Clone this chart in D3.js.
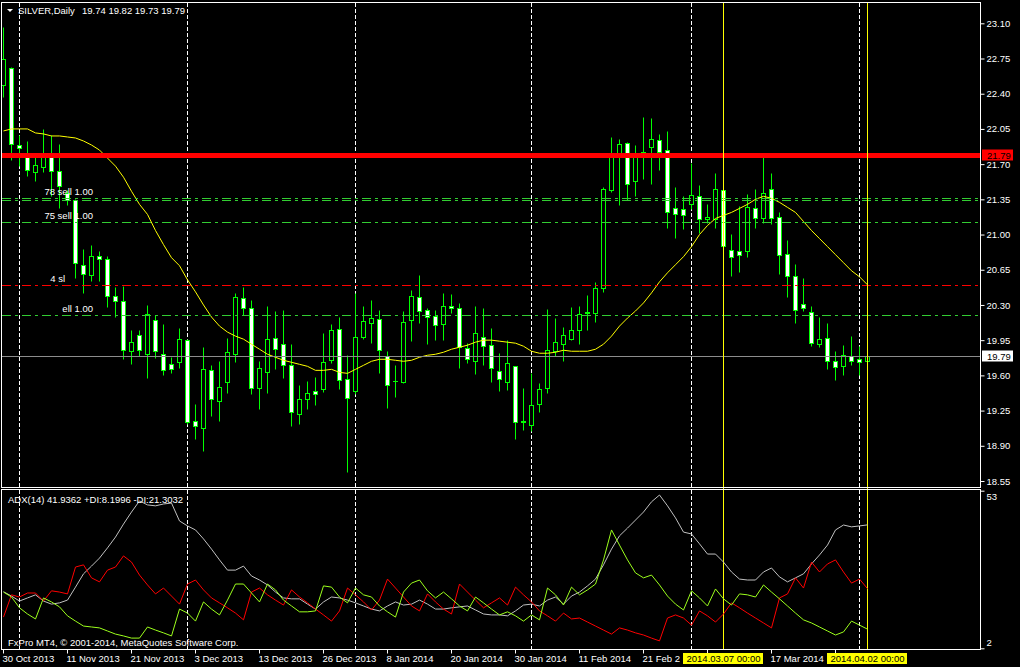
<!DOCTYPE html>
<html><head><meta charset="utf-8">
<script src="https://cdn.jsdelivr.net/npm/d3@7"></script>
<style>
body{margin:0;background:#000;}
svg{display:block;background:#000;}
text{font-family:"Liberation Sans",Arial,sans-serif;font-size:9.5px;}
</style></head>
<body><svg id="c" width="1020" height="667"></svg>
<script>
// ---------- DATA ----------
const dates = [
"2013-10-30","2013-10-31",
"2013-11-01","2013-11-04","2013-11-05","2013-11-06","2013-11-07","2013-11-08","2013-11-11","2013-11-12","2013-11-13","2013-11-14","2013-11-15","2013-11-18","2013-11-19","2013-11-20","2013-11-21","2013-11-22","2013-11-25","2013-11-26","2013-11-27","2013-11-28","2013-11-29",
"2013-12-02","2013-12-03","2013-12-04","2013-12-05","2013-12-06","2013-12-09","2013-12-10","2013-12-11","2013-12-12","2013-12-13","2013-12-16","2013-12-17","2013-12-18","2013-12-19","2013-12-20","2013-12-23","2013-12-24","2013-12-26","2013-12-27","2013-12-30","2013-12-31",
"2014-01-02","2014-01-03","2014-01-06","2014-01-07","2014-01-08","2014-01-09","2014-01-10","2014-01-13","2014-01-14","2014-01-15","2014-01-16","2014-01-17","2014-01-20","2014-01-21","2014-01-22","2014-01-23","2014-01-24","2014-01-27","2014-01-28","2014-01-29","2014-01-30","2014-01-31",
"2014-02-03","2014-02-04","2014-02-05","2014-02-06","2014-02-07","2014-02-10","2014-02-11","2014-02-12","2014-02-13","2014-02-14","2014-02-17","2014-02-18","2014-02-19","2014-02-20","2014-02-21","2014-02-24","2014-02-25","2014-02-26","2014-02-27","2014-02-28",
"2014-03-03","2014-03-04","2014-03-05","2014-03-06","2014-03-07","2014-03-10","2014-03-11","2014-03-12","2014-03-13","2014-03-14","2014-03-17","2014-03-18","2014-03-19","2014-03-20","2014-03-21","2014-03-24","2014-03-25","2014-03-26","2014-03-27","2014-03-28","2014-03-31",
"2014-04-01","2014-04-02"];

const open = [22.49,22.66,21.89,21.80,21.62,21.67,21.81,21.63,21.41,21.34,
20.70,20.60,20.79,20.76,20.39,20.34,19.84,20.00,19.81,20.15,
19.81,19.71,19.73,19.95,19.15,19.08,19.65,19.35,19.53,19.81,
20.37,20.27,19.47,19.63,19.97,19.91,19.70,19.22,19.37,19.44,
19.46,19.75,20.06,19.56,19.44,19.98,20.12,20.16,19.79,19.54,
19.53,20.15,20.38,20.25,20.19,20.11,20.29,20.27,19.87,19.74,
19.98,19.90,19.64,19.53,19.69,19.14,19.11,19.32,19.47,19.84,
19.91,19.96,20.05,20.22,20.22,20.47,21.44,21.77,21.91,21.53,
21.80,21.87,21.94,21.84,21.26,21.25,21.30,21.38,21.15,21.15,
21.44,20.85,20.84,20.84,21.26,21.16,21.45,21.17,20.81,20.59,
20.31,20.23,19.91,19.97,19.74,19.69,19.79,19.76,19.74];
const high = [23.06,22.67,21.99,21.93,21.78,22.05,21.99,21.90,21.44,21.35,
20.86,20.90,20.84,20.79,20.48,20.49,20.05,20.05,20.30,20.20,
20.11,19.78,20.07,19.96,19.32,19.88,19.70,19.74,19.97,20.42,
20.48,20.35,19.74,20.29,20.24,20.25,19.91,19.50,19.54,19.58,
20.02,20.11,20.18,19.80,20.42,20.29,20.35,20.25,19.84,19.70,
20.24,20.45,20.60,20.27,20.25,20.42,20.41,20.32,19.92,20.29,
20.27,20.07,19.82,19.95,19.69,19.47,19.62,19.52,20.26,20.17,
20.08,20.28,20.29,20.40,20.53,21.47,21.97,21.95,21.92,21.89,
22.17,22.16,22.00,22.03,21.47,21.38,21.71,21.49,21.30,21.61,
21.58,21.01,21.28,21.40,21.45,21.78,21.61,21.22,20.95,20.71,
20.57,20.29,20.18,20.12,19.84,19.90,19.99,19.89,19.82];
const low = [22.37,21.74,21.68,21.58,21.53,21.62,21.38,21.26,21.29,20.57,
20.42,20.54,20.54,20.28,20.18,19.76,19.71,19.79,19.57,19.77,
19.60,19.62,19.67,19.12,18.97,18.85,19.20,19.15,19.42,19.73,
20.20,19.41,19.27,19.42,19.66,19.57,19.10,19.12,19.27,19.31,
19.43,19.72,19.46,18.64,19.41,19.96,19.92,19.62,19.28,19.39,
19.52,19.94,20.12,19.91,19.95,19.95,20.22,19.67,19.72,19.61,
19.70,19.53,19.44,19.45,18.97,19.06,19.05,19.24,19.42,19.79,
19.74,19.95,19.91,20.05,20.13,20.43,21.42,21.29,21.34,21.38,
21.55,21.50,21.64,21.07,20.97,21.06,21.25,21.02,21.11,21.07,
20.73,20.59,20.63,20.78,21.07,21.11,21.10,20.61,20.38,20.12,
20.24,19.89,19.88,19.66,19.55,19.60,19.70,19.60,19.73];
const close = [22.75,21.90,21.86,21.64,21.69,21.80,21.63,21.48,21.34,20.72,
20.61,20.79,20.76,20.39,20.34,19.85,19.93,19.85,20.21,19.84,
19.65,19.66,19.96,19.14,19.10,19.66,19.37,19.48,19.83,20.38,
20.27,19.47,19.67,19.96,19.86,19.70,19.24,19.37,19.42,19.41,
19.73,20.05,19.55,19.38,19.98,20.14,20.17,19.85,19.50,19.54,
20.13,20.39,20.24,20.18,20.10,20.29,20.27,19.88,19.76,20.02,
19.89,19.67,19.56,19.72,19.14,19.15,19.31,19.46,19.85,19.93,
20.00,20.05,20.21,20.23,20.47,21.45,21.80,21.90,21.50,21.79,
21.82,21.95,21.82,21.22,21.20,21.19,21.39,21.15,21.17,21.45,
20.89,20.78,20.80,21.27,21.16,21.41,21.16,20.80,20.59,20.25,
20.27,19.92,19.96,19.74,19.68,19.80,19.74,19.73,19.79];

const movingAverage = [22.03,22.05,22.05,22.05,22.01,22.00,21.98,21.98,21.97,21.96,
21.93,21.89,21.84,21.76,21.68,21.57,21.43,21.30,21.20,21.04,
20.90,20.77,20.69,20.55,20.43,20.30,20.18,20.09,20.03,19.99,
19.96,19.91,19.86,19.81,19.78,19.75,19.73,19.71,19.69,19.65,
19.65,19.66,19.63,19.62,19.66,19.70,19.74,19.76,19.76,19.75,
19.74,19.75,19.78,19.80,19.81,19.83,19.86,19.88,19.90,19.93,
19.95,19.95,19.94,19.93,19.92,19.89,19.84,19.82,19.82,19.83,
19.85,19.84,19.84,19.84,19.86,19.91,19.99,20.09,20.17,20.24,
20.32,20.42,20.53,20.62,20.70,20.78,20.88,21.00,21.09,21.16,
21.19,21.22,21.26,21.30,21.35,21.38,21.36,21.32,21.27,21.22,
21.13,21.04,20.96,20.88,20.80,20.72,20.64,20.58,20.50];

const adx = [20.3,18.9,17.3,18.3,19.3,17.3,16.3,16.7,17.6,21.8,
26.1,28.6,31.2,34.5,38.0,42.2,46.1,49.7,48.4,48.1,
48.7,49.0,43.2,41.6,40.3,37.4,34.1,30.6,27.3,27.3,
28.6,25.4,24.1,22.5,20.2,18.3,18.0,18.0,16.3,14.7,
17.0,18.6,18.3,17.6,16.7,15.7,14.7,14.1,15.7,17.0,
16.0,16.3,17.6,16.3,14.7,14.7,15.1,15.4,15.7,14.4,
13.1,12.8,12.8,12.5,14.1,16.0,16.3,15.7,17.6,18.6,
16.3,18.9,20.2,22.2,24.4,29.0,34.1,38.4,40.9,43.5,
46.1,49.4,51.6,48.1,44.2,39.6,39.0,35.8,32.5,32.5,
29.9,26.7,24.4,24.1,24.1,26.7,28.0,25.1,23.5,24.8,
26.1,29.3,32.2,35.4,40.3,41.9,41.3,41.6,41.94];
const minusDI = [12.1,19.3,18.6,19.9,19.9,17.3,20.6,20.2,19.6,28.3,
29.0,24.8,23.5,27.3,28.3,31.9,29.9,25.7,22.5,19.6,
21.5,18.9,16.3,22.8,24.1,20.9,18.3,16.7,15.1,13.4,
11.2,20.2,21.5,19.3,17.6,16.0,20.9,18.6,16.7,14.7,
12.8,10.8,14.1,21.5,19.3,17.0,14.4,17.6,24.4,21.5,
18.6,15.7,14.1,19.6,17.0,14.7,13.1,22.8,20.2,17.6,
15.1,16.7,18.3,16.0,21.8,19.3,17.0,14.1,12.5,10.8,
13.4,11.5,11.8,10.5,9.2,7.9,6.6,8.6,7.9,7.0,
6.3,5.3,4.4,11.8,12.8,11.8,9.5,14.1,12.5,10.5,
13.1,16.7,15.1,13.4,11.8,10.2,8.6,18.3,19.6,24.8,
21.5,29.9,26.7,29.3,30.6,26.7,23.1,24.4,21.30];
const plusDI = [20.2,18.6,15.1,13.1,11.5,18.3,17.0,15.4,12.5,10.8,
9.2,8.9,8.6,7.6,6.6,6.0,5.3,5.3,8.9,7.9,
7.0,6.0,14.7,13.4,10.8,17.0,14.7,12.8,17.6,22.8,
22.8,19.9,17.0,22.8,20.9,17.6,15.7,13.8,13.8,14.1,
22.2,21.8,18.6,16.7,21.5,19.3,18.6,15.7,13.8,12.1,
20.2,23.1,24.1,20.6,18.3,20.2,18.0,15.7,14.1,18.6,
16.7,14.7,12.8,13.8,12.5,10.8,12.8,11.2,21.5,19.3,
16.0,21.8,19.3,20.9,22.8,30.6,40.3,35.4,30.6,26.4,
24.8,25.7,22.5,18.9,16.3,14.4,20.6,18.3,15.7,21.2,
18.0,16.0,19.6,19.3,18.6,22.5,20.2,18.0,15.7,13.4,
11.2,10.2,8.9,7.6,6.3,7.3,10.8,9.5,8.20];

const priceTicks = [23.10,22.75,22.40,22.05,21.70,21.35,21.00,20.65,20.30,19.95,19.60,19.25,18.90,18.55];
const priceDomain = [18.55, 23.10];
const adxTicks = [53, 2];
const resistanceLevel = 21.79;
const lastClose = 19.79;
const greenOrderLevels = [21.36, 21.34, 21.12, 20.20];
const redOrderLevels = [20.50];
const orderLabelLevels = [21.36, 21.12, 20.50, 20.20];
const orderLabelTexts = ["78 sell 1.00", "75 sell 1.00", "4 sl", "ell 1.00"];
const separatorDates = ["2013-11-01","2013-12-02","2014-01-02","2014-02-03","2014-03-03","2014-04-01"];
const markerDates = ["2014-03-07","2014-04-02"];
const markerLabels = ["2014.03.07 00:00","2014.04.02 00:00"];
const headerTitle = "SILVER,Daily";
const adxHeader = "ADX(14) 41.9362 +DI:8.1996 -DI:21.3032";
const copyright = "FxPro MT4, \u00A9 2001-2014, MetaQuotes Software Corp.";

// ---------- DRAW ----------
const svg = d3.select("#c");
const FONT = '"Liberation Sans",Arial,sans-serif';
const L = 1.5, R = 980.5, MT = 2.5, MB = 487.5, AT = 489.5, AB = 649.5;
const orderLabelRight = [93, 93, 65, 93];

const x = d3.scalePoint().domain(dates).range([3, 867]);
const X = d => x(d) + 0.5;
const y = d3.scaleLinear().domain(priceDomain).range([481, 23.3]);
const Y = v => Math.round(y(v)) + 0.5;
const ya = d3.scaleLinear().domain([2, 53]).range([648.3, 490.7]);

const defs = svg.append("defs");
defs.append("clipPath").attr("id","cm").append("rect").attr("x",2).attr("y",3).attr("width",978).attr("height",484);
defs.append("clipPath").attr("id","ca").append("rect").attr("x",2).attr("y",490).attr("width",978).attr("height",159);

// separators
const sep = svg.append("g");
separatorDates.forEach(d => {
  [[MT+0.5, MB-0.5],[AT+0.5, AB-0.5]].forEach(([a,b]) => {
    sep.append("line").attr("x1",X(d)).attr("x2",X(d)).attr("y1",a).attr("y2",b)
      .attr("stroke","#fff").attr("stroke-dasharray","4,2");
  });
});

// candles
const gm = svg.append("g").attr("clip-path","url(#cm)");
dates.forEach((d,i) => {
  const xc = X(d);
  gm.append("line").attr("x1",xc).attr("x2",xc).attr("y1",Y(high[i])).attr("y2",Y(low[i]))
    .attr("stroke","#00ff00").attr("stroke-width",1);
  const top = Y(Math.max(open[i],close[i])), bot = Y(Math.min(open[i],close[i]));
  const bull = close[i] >= open[i];
  if (bot - top < 0.5) {
    gm.append("line").attr("x1",xc-2.5).attr("x2",xc+2.5).attr("y1",top).attr("y2",top).attr("stroke","#00ff00");
  } else {
    gm.append("rect").attr("x",xc-2).attr("y",top).attr("width",4).attr("height",bot-top)
      .attr("fill", bull ? "#000" : "#fff").attr("stroke","#00ff00").attr("stroke-width",1);
  }
});

// moving average
gm.append("path").datum(movingAverage)
  .attr("d", d3.line().x((v,i)=>X(dates[i])).y(v=>y(v)))
  .attr("fill","none").attr("stroke","#ffff00").attr("stroke-width",1);

// level lines
const hl = (v,color,w,dash) => gm.append("line").attr("x1",2).attr("x2",980).attr("y1",Y(v)).attr("y2",Y(v))
  .attr("stroke",color).attr("stroke-width",w).attr("stroke-dasharray",dash||null);
greenOrderLevels.forEach(v => hl(v,"#32cd32",1,"9,4,3,4"));
redOrderLevels.forEach(v => hl(v,"#ff0000",1,"9,4,3,4"));
hl(lastClose,"#8c8c8c",1);
hl(resistanceLevel,"#ff0000",5);

orderLabelLevels.forEach((v,i) => {
  gm.append("text").attr("x",orderLabelRight[i]).attr("y",Y(v)-3.5).attr("text-anchor","end")
    .attr("fill","#fff").text(orderLabelTexts[i]);
});

// marker vertical lines
markerDates.forEach(d => {
  svg.append("line").attr("x1",X(d)).attr("x2",X(d)).attr("y1",3).attr("y2",649)
    .attr("stroke","#ffff00").attr("stroke-width",1);
});

// ADX panel lines
const ga = svg.append("g").attr("clip-path","url(#ca)");
const aline = d3.line().x((v,i)=>X(dates[i])).y(v=>ya(v));
[[adx,"#c0c0c0"],[minusDI,"#ff0000"],[plusDI,"#9cff1c"]].forEach(([arr,c]) => {
  ga.append("path").datum(arr).attr("d",aline).attr("fill","none").attr("stroke",c).attr("stroke-width",1);
});

// frames
svg.append("rect").attr("x",L).attr("y",MT).attr("width",R-L).attr("height",MB-MT).attr("fill","none").attr("stroke","#fff");
svg.append("rect").attr("x",L).attr("y",AT).attr("width",R-L).attr("height",AB-AT).attr("fill","none").attr("stroke","#fff");

// price axis
const ay = svg.append("g").attr("transform",`translate(${R},0)`)
  .call(d3.axisRight(y).tickValues(priceTicks).tickSize(4).tickPadding(2).tickFormat(d3.format(".2f")));
ay.select(".domain").remove();
ay.selectAll("line").attr("stroke","#fff");
ay.selectAll("text").attr("fill","#fff").style("font-family",FONT).style("font-size","9.5px");

// ADX axis
const aa = svg.append("g").attr("transform",`translate(${R},0)`)
  .call(d3.axisRight(ya).tickValues(adxTicks).tickSize(4).tickPadding(2).tickFormat(d3.format("d")));
aa.select(".domain").remove();
aa.selectAll("line").attr("stroke","#fff");
aa.selectAll("text").attr("fill","#fff").style("font-family",FONT).style("font-size","9.5px")
  .attr("dy", d => d === 53 ? "0.95em" : "-0.3em");

// x axis: labels fully hidden under the marker boxes (as in the reference) are left out,
// a label partly covered shows only its visible part
const parse = d3.timeParse("%Y-%m-%d"), fmt = d3.timeFormat("%-d %b %Y");
const xTickDates = dates.filter((d,i) => i % 8 === 0);
const boxLefts = markerDates.map(m => x(m) - 40);
const hiddenUnderBox = d => markerDates.some(m => Math.abs(x(d) - x(m)) < 40);
const ax = svg.append("g").attr("transform",`translate(0,${AB})`)
  .call(d3.axisBottom(x).tickValues(xTickDates).tickSize(4).tickPadding(2)
    .tickFormat(d => hiddenUnderBox(d) ? "" : fmt(parse(d))));
ax.select(".domain").remove();
ax.selectAll("line").attr("stroke","#fff");
ax.selectAll("text").attr("fill","#fff").attr("text-anchor","start").attr("x",-1)
  .style("font-family",FONT).style("font-size","9.5px");
ax.selectAll(".tick").filter(d => hiddenUnderBox(d)).select("text").remove();
ax.selectAll(".tick").each(function(d){
  const t = d3.select(this).select("text");
  if (t.empty()) return;
  const start = x(d) - 0.5;
  const limit = boxLefts.find(b => b > start && b < start + 60);
  if (limit === undefined) return;
  let s = t.text();
  while (s.length > 1 && start + t.node().getComputedTextLength() > limit - 0.5) {
    s = s.slice(0, -1).replace(/\s+$/,"");
    t.text(s);
  }
});

// marker labels on time axis
markerDates.forEach((d,i) => {
  svg.append("rect").attr("x",X(d)-40.5).attr("y",653).attr("width",80).attr("height",11).attr("fill","#ffff00");
  svg.append("text").attr("x",X(d)).attr("y",662).attr("text-anchor","middle").attr("fill","#000").text(markerLabels[i]);
});

// price labels on axis
const priceBox = (v,bg,fg) => {
  const yc = y(v);
  svg.append("rect").attr("x",982).attr("y",Math.round(yc)-5.5).attr("width",31).attr("height",11).attr("fill",bg);
  svg.append("text").attr("x",987).attr("y",Math.round(yc)+3.5).attr("fill",fg).text(d3.format(".2f")(v));
};
priceBox(resistanceLevel,"#ff0000","#000");
priceBox(lastClose,"#ffffff","#000");

// headers
svg.append("path").attr("d","M7,9 L13,9 L10,12 Z").attr("fill","#fff");
svg.append("text").attr("x",18).attr("y",14).attr("fill","#fff").text(headerTitle);
const last = dates.length - 1;
svg.append("text").attr("x",82).attr("y",14).attr("fill","#fff")
  .text([open[last],high[last],low[last],close[last]].map(v=>v.toFixed(2)).join(" "));
svg.append("text").attr("x",8).attr("y",502.5).attr("fill","#fff").text(adxHeader);
svg.append("text").attr("x",8).attr("y",645.5).attr("fill","#fff").text(copyright);
</script>
</body></html>
